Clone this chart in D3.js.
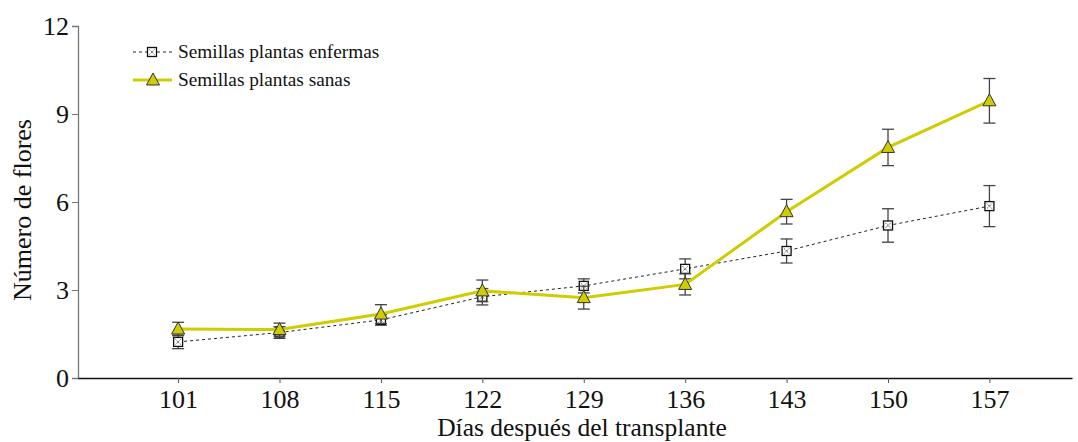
<!DOCTYPE html>
<html>
<head>
<meta charset="utf-8">
<script src="https://d3js.org/d3.v7.min.js"></script>
<style>
  html, body { margin: 0; padding: 0; background: #fff; }
  svg { display: block; }
  svg text { font-family: "Liberation Serif", "Times New Roman", Tinos, Times, "DejaVu Serif", serif !important; fill: #111; }
</style>
</head>
<body>
<svg id="chart" width="1078" height="442"></svg>
<script>
// Días después del transplante
const dias = [101, 108, 115, 122, 129, 136, 143, 150, 157];
// Semillas de plantas enfermas: media y error
const enfermas = [1.23, 1.55, 1.98, 2.77, 3.14, 3.72, 4.33, 5.20, 5.86];
const enfermasErr = [0.23, 0.20, 0.18, 0.28, 0.24, 0.34, 0.41, 0.57, 0.70];
// Semillas de plantas sanas: media y error
const sanas = [1.67, 1.65, 2.18, 2.97, 2.74, 3.19, 5.67, 7.86, 9.45];
const sanasErr = [0.23, 0.22, 0.32, 0.37, 0.39, 0.36, 0.42, 0.62, 0.76];
const yTicks = [0, 3, 6, 9, 12];

const svg = d3.select("#chart");
const plotLeft = 78, plotRight = 1072, plotTop = 26, plotBottom = 378;

const x = d3.scaleLinear().domain([94.09, 162.7]).range([plotLeft, plotRight]);
const y = d3.scaleLinear().domain([0, 12]).range([plotBottom, plotTop]);

const yellow = "#cfcc00";
const errColor = "#444";

// Axes
const yAxis = svg.append("g")
  .attr("transform", `translate(${plotLeft},0)`)
  .call(d3.axisLeft(y).tickValues(yTicks).tickSize(6).tickPadding(3));
yAxis.attr("font-family", null);
yAxis.select(".domain").attr("stroke", "#777").attr("stroke-width", 1.3);
yAxis.selectAll(".tick line").attr("stroke", "#777");
yAxis.selectAll(".tick text")
  .style("font-size", "26px").attr("fill", "#111");

const xAxis = svg.append("g")
  .attr("transform", `translate(0,${plotBottom})`)
  .call(d3.axisBottom(x).tickValues(dias).tickSize(5).tickPadding(7).tickSizeOuter(0));
xAxis.attr("font-family", null);
xAxis.select(".domain").attr("stroke", "#111").attr("stroke-width", 1.5);
xAxis.selectAll(".tick line").attr("stroke", "#555");
xAxis.selectAll(".tick text")
  .style("font-size", "26px").attr("fill", "#111");

// Axis titles
svg.append("text")
  .attr("x", 582).attr("y", 436)
  .attr("text-anchor", "middle")
  .style("font-size", "25.5px")
  .text("Días después del transplante");

svg.append("text")
  .attr("transform", "translate(31,210) rotate(-90)")
  .attr("text-anchor", "middle")
  .style("font-size", "26px")
  .text("Número de flores");

function drawSeries(vals, errs, opts) {
  const pts = dias.map((d, i) => ({ d, v: vals[i], e: errs[i] }));
  const g = svg.append("g");
  // error bars
  const eb = g.selectAll(".eb").data(pts).enter().append("g");
  eb.append("line")
    .attr("x1", p => x(p.d)).attr("x2", p => x(p.d))
    .attr("y1", p => y(p.v - p.e)).attr("y2", p => y(p.v + p.e))
    .attr("stroke", errColor).attr("stroke-width", 1.3);
  [-1, 1].forEach(s => {
    eb.append("line")
      .attr("x1", p => x(p.d) - 6).attr("x2", p => x(p.d) + 6)
      .attr("y1", p => y(p.v + s * p.e)).attr("y2", p => y(p.v + s * p.e))
      .attr("stroke", errColor).attr("stroke-width", 1.3);
  });
  // line
  g.append("path")
    .datum(pts)
    .attr("fill", "none")
    .attr("stroke", opts.stroke)
    .attr("stroke-width", opts.width)
    .attr("stroke-dasharray", opts.dash || null)
    .attr("d", d3.line().x(p => x(p.d)).y(p => y(p.v)));
  // markers
  g.selectAll(".m").data(pts).enter().append("g")
    .attr("transform", p => `translate(${x(p.d)},${y(p.v)})`)
    .each(function () { opts.marker(d3.select(this)); });
}

function squareMarker(sel) {
  sel.append("rect").attr("x", -4.5).attr("y", -4.5).attr("width", 9).attr("height", 9)
    .attr("fill", "#fff").attr("stroke", "#111").attr("stroke-width", 1.3);
  sel.append("path").attr("d", "M-2.5,-2.5L2.5,2.5M2.5,-2.5L-2.5,2.5")
    .attr("stroke", "#333").attr("stroke-width", 0.9).attr("stroke-dasharray", "1.2,0.8");
}
function triangleMarker(sel) {
  sel.append("path").attr("d", "M0,-7L6.5,5L-6.5,5Z")
    .attr("fill", yellow).attr("stroke", "#333").attr("stroke-width", 1);
}

drawSeries(enfermas, enfermasErr, { stroke: "#222", width: 1, dash: "3,3", marker: squareMarker });
drawSeries(sanas, sanasErr, { stroke: yellow, width: 3, marker: triangleMarker });

// Legend
const leg = svg.append("g");
leg.append("line").attr("x1", 133).attr("x2", 172).attr("y1", 52).attr("y2", 52)
  .attr("stroke", "#222").attr("stroke-width", 1).attr("stroke-dasharray", "3,3");
squareMarker(leg.append("g").attr("transform", "translate(152,52)"));
leg.append("text").attr("x", 178).attr("y", 58).style("font-size", "19.3px")
  .text("Semillas plantas enfermas");

leg.append("line").attr("x1", 133).attr("x2", 172).attr("y1", 80).attr("y2", 80)
  .attr("stroke", yellow).attr("stroke-width", 3);
triangleMarker(leg.append("g").attr("transform", "translate(153,80)"));
leg.append("text").attr("x", 178).attr("y", 86).style("font-size", "19.3px")
  .text("Semillas plantas sanas");
</script>
</body>
</html>
